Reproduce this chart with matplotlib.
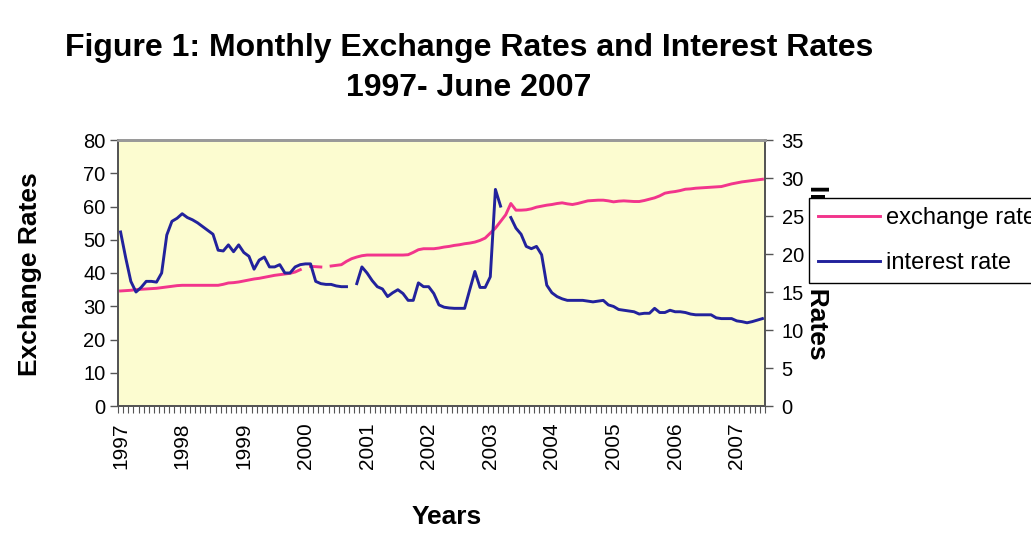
import matplotlib
matplotlib.use("Agg")
import matplotlib.pyplot as plt
import numpy as np

plt.rcParams['font.family'] = ['Liberation Sans', 'DejaVu Sans']

nan = np.nan

# monthly values, Jan 1997 .. Jun 2007 (126 months)
exchange_rate = [
    34.6, 34.7, 34.8, 35.0, 35.1, 35.2, 35.3, 35.4, 35.6, 35.8, 36.0, 36.2,
    36.3, 36.3, 36.3, 36.3, 36.3, 36.3, 36.3, 36.3, 36.6, 37.0, 37.1, 37.3,
    37.6, 37.9, 38.2, 38.4, 38.7, 39.0, 39.3, 39.5, 39.7, 39.9, 40.3, 41.0,
    nan, 42.0, 41.9, 41.8, nan, 42.1, 42.3, 42.5, 43.5, 44.3, 44.8, 45.2,
    45.4, 45.4, 45.4, 45.4, 45.4, 45.4, 45.4, 45.4, 45.5, 46.2, 47.0, 47.3,
    47.3, 47.3, 47.5, 47.8, 48.0, 48.3, 48.5, 48.8, 49.0, 49.3, 49.8, 50.5,
    52.0, 53.5, 55.5, 57.5, 60.9, 58.9, 58.9, 59.0, 59.3, 59.8, 60.1, 60.4,
    60.6, 60.9, 61.1, 60.8, 60.6, 60.9, 61.3, 61.7, 61.8, 61.9, 61.9, 61.7,
    61.4, 61.6, 61.7, 61.6, 61.5, 61.5, 61.8, 62.2, 62.6, 63.2, 64.0, 64.3,
    64.5, 64.8, 65.2, 65.3, 65.5, 65.6, 65.7, 65.8, 65.9, 66.0, 66.4, 66.8,
    67.1, 67.4, 67.6, 67.8, 68.0, 68.2,
]

interest_rate = [
    22.9, 19.5, 16.4, 15.0, 15.6, 16.4, 16.4, 16.3, 17.5, 22.5, 24.3, 24.7,
    25.3, 24.8, 24.5, 24.1, 23.6, 23.1, 22.6, 20.5, 20.4, 21.2, 20.3, 21.2,
    20.2, 19.7, 18.0, 19.2, 19.6, 18.3, 18.3, 18.6, 17.5, 17.5, 18.3, 18.6,
    18.7, 18.7, 16.4, 16.1, 16.0, 16.0, 15.8, 15.7, 15.7, nan, 16.1, 18.3,
    17.5, 16.5, 15.7, 15.4, 14.4, 14.9, 15.3, 14.8, 13.9, 13.9, 16.2, 15.7,
    15.7, 14.8, 13.3, 13.0, 12.9, 12.85, 12.85, 12.85, 15.3, 17.7, 15.6, 15.6,
    17.0, 28.5, 26.3, nan, 24.8, 23.4, 22.6, 21.0, 20.7, 21.0, 19.9, 15.9,
    14.9, 14.4, 14.1, 13.9, 13.9, 13.9, 13.9, 13.8, 13.7, 13.8, 13.9, 13.3,
    13.1, 12.7, 12.6, 12.5, 12.4, 12.1, 12.2, 12.2, 12.85, 12.3, 12.3, 12.6,
    12.4, 12.4, 12.3, 12.1, 12.0, 12.0, 12.0, 12.0, 11.6, 11.5, 11.5, 11.5,
    11.2, 11.1, 10.95, 11.1, 11.3, 11.5,
]

year_labels = [str(y) for y in range(1997, 2008)]

months = np.arange(len(exchange_rate))

fig = plt.figure(figsize=(10.31, 5.35), dpi=100)
ax = fig.add_axes([118/1031, 1-406/535, 647/1031, 266/535])
ax.set_facecolor('#FCFCD0')
ax2 = ax.twinx()

l1, = ax.plot(months, exchange_rate, color='#F2358C', lw=2.1, label='exchange rate')
l2, = ax2.plot(months, interest_rate, color='#22229C', lw=2.1, label='interest rate')

ax.set_xlim(-0.5, len(months) - 0.5)
ax.set_ylim(0, 80)
ax2.set_ylim(0, 35)
ax.set_yticks(np.arange(0, 81, 10))
ax2.set_yticks(np.arange(0, 36, 5))

ax.set_xticks(np.arange(0, len(months), 12))
ax.set_xticklabels(year_labels, rotation=90)
ax.set_xticks(np.arange(-0.5, len(months), 1), minor=True)
ax.tick_params(axis='x', which='major', length=0, pad=12, labelsize=15)
ax.tick_params(axis='x', which='minor', length=5, width=0.8, direction='out', color='#555555')
ax.tick_params(axis='y', length=6, width=1, color='#555555', labelsize=14.5, pad=3)
ax2.tick_params(axis='y', length=6, width=1, color='#555555', labelsize=14.5, pad=6)

for a in (ax, ax2):
    for s in ('left', 'right', 'bottom'):
        a.spines[s].set_color('#555555')
        a.spines[s].set_linewidth(1.3)
    a.spines['top'].set_color('#999999')
    a.spines['top'].set_linewidth(2)

fig.text(469/1031, 1-48/535, 'Figure 1: Monthly Exchange Rates and Interest Rates',
         ha='center', va='center', fontsize=23, fontweight='bold')
fig.text(469/1031, 1-88/535, '1997- June 2007',
         ha='center', va='center', fontsize=23, fontweight='bold')
fig.text(30/1031, 1-274/535, 'Exchange Rates', rotation=90,
         ha='center', va='center', fontsize=19, fontweight='bold')
fig.text(817/1031, 1-272/535, 'Interest Rates', rotation=270,
         ha='center', va='center', fontsize=19, fontweight='bold')
fig.text(447/1031, 1-517/535, 'Years',
         ha='center', va='center', fontsize=19, fontweight='bold')

leg = fig.legend([l1, l2], ['exchange rate', 'interest rate'], loc='upper left',
                 bbox_to_anchor=(809/1031, 1-198/535), borderaxespad=0,
                 fontsize=17, handlelength=2.6, handletextpad=0.25,
                 labelspacing=0.95, borderpad=0.4, fancybox=False,
                 edgecolor='black', framealpha=1)
leg.get_frame().set_linewidth(1)

fig.savefig('out.png', dpi=100)
